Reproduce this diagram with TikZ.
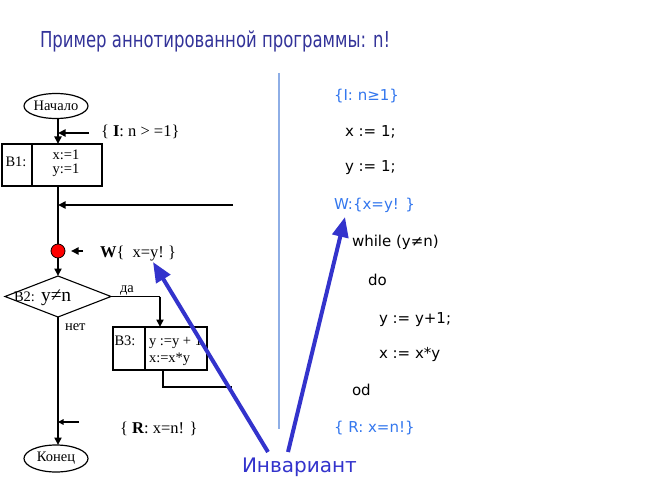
\documentclass[tikz,border=0pt]{standalone}
\usepackage{fontspec}
\usepackage{graphicx}
\setmainfont{Liberation Serif}
\newfontfamily\vsans{DejaVu Sans}
\usetikzlibrary{arrows.meta,shapes.geometric}
\definecolor{titleblue}{HTML}{333399}
\definecolor{codeblue}{HTML}{3377EE}
\definecolor{arrowblue}{HTML}{3333CC}
\definecolor{sepblue}{HTML}{8EAEE6}
\begin{document}
\begin{tikzpicture}[x=1bp,y=-1bp,
  every node/.style={inner sep=0pt, outer sep=0pt},
  term/.style={ellipse, draw, line width=1.2bp, minimum width=64bp, minimum height=25bp, font=\fontsize{14.5bp}{16bp}\selectfont},
  cell/.style={rectangle, draw, line width=1.1bp},
  flow/.style={line width=2.8bp},
  thinline/.style={line width=1.1bp},
  tipA/.style={-{Triangle[length=7.5bp,width=7bp]}},
  lab/.style={font=\fontsize{14.5bp}{16bp}\selectfont},
  ann/.style={font=\fontsize{16.5bp}{18bp}\selectfont},
  code/.style={anchor=base west, font=\vsans\fontsize{15bp}{18bp}\selectfont},
  codeb/.style={code, text=codeblue},
  inv/.style={arrowblue, line width=4bp, -{Triangle[length=20bp,width=16bp]}}
]
\useasboundingbox (0,0) rectangle (646,494);
\fill[white] (0,0) rectangle (646,494);

% title
\node[anchor=base west, text=titleblue, font=\vsans\fontsize{22bp}{26bp}\selectfont] (title) at (40,48) {\scalebox{0.75}[1]{Пример аннотированной программы: n!}};

% separator
\coordinate (sepA) at (279,73);
\coordinate (sepB) at (279,429);
\draw[sepblue, line width=2bp] (sepA) -- (sepB);

% flowchart
\coordinate (fx) at (58,0);
\node[term] (start) at (56,106) {Начало};
\node[cell, minimum width=30bp, minimum height=42bp] (b1a) at (17,165) {};
\node[lab, anchor=base] (b1al) at (16,167) {B1:};
\node[cell, minimum width=70bp, minimum height=42bp] (b1) at (67,165) {};
\node[lab, anchor=base] (b1t1) at (66,160) {x:=1};
\node[lab, anchor=base] (b1t2) at (66,174) {y:=1};

\node[circle, draw, fill=red, minimum size=14bp, line width=0.8bp] (dot) at (58,251) {};
\node[diamond, draw, thinline, minimum width=106bp, minimum height=41bp] (b2) at (58,296.5) {};
\node[lab, anchor=base west] (b2lab) at (14,301) {B2:};
\node[font=\fontsize{19.5bp}{21bp}\selectfont, anchor=base west] (b2cond) at (41,301) {y≠n};

\node[cell, minimum width=32bp, minimum height=43bp] (b3a) at (129,348.5) {};
\node[lab, anchor=base] (b3al) at (125,345) {B3:};
\node[cell, minimum width=62bp, minimum height=43bp] (b3) at (176,348.5) {};
\node[lab, anchor=base west] (b3t1) at (149,345) {y :=y + 1};
\node[lab, anchor=base west] (b3t2) at (149,362) {x:=x*y};

\node[term, minimum height=27bp] (end) at (56,458.5) {Конец};

% annotations
\node[ann, anchor=base west] (iann) at (101,137) {\{ \textbf{I}: n > =1\}};
\node[anchor=base west, font=\fontsize{16.5bp}{18bp}\selectfont] (wann) at (100,258) {\textbf{W}\{\ \ x=y!\ \}};
\node[ann, anchor=base west] (rann) at (120,433) {\{ \textbf{R}: x=n! \}};
\node[lab, anchor=base west] (yes) at (120,292) {да};
\node[lab, anchor=base west] (no) at (65,330) {нет};

% connectors
\coordinate (iarrow) at (89,133);
\coordinate (loopin) at (233,205);
\coordinate (warrow) at (83,251);
\coordinate (yesc) at (160,296.5);
\coordinate (lb) at (163,387);
\coordinate (le) at (232,387);
\coordinate (rtick) at (79,422);

\draw[flow, tipA] (start.south -| fx) -- (b1.north -| fx);
\draw[flow, tipA] (iarrow) -- (iarrow -| fx);
\draw[flow] (b1.south -| fx) -- (dot.north);
\draw[flow, tipA] (loopin) -- (loopin -| fx);
\draw[flow, tipA, shorten >=6bp] (warrow) -- (dot.east);
\draw[flow, tipA] (dot.south) -- (b2.north);
\draw[thinline] (b2.east) -- (yesc);
\draw[flow, tipA] (yesc) -- (yesc |- b3.north);
\draw[thinline] (lb |- b3.south) -- (lb) -- (le);
\draw[flow, tipA] (b2.south) -- (end.north -| fx);
\draw[line width=1.6bp, -{Triangle[length=5.5bp,width=5.5bp]}] (rtick) -- (rtick -| fx);

% code
\node[codeb] (c1) at (334,101) {\{I: n≥1\}};
\node[code] (c2) at (345,137) {x := 1;};
\node[code] (c3) at (345,172) {y := 1;};
\node[codeb] (c4) at (334,210) {W:\{x=y! \}};
\node[code] (c5) at (352,247) {while (y≠n)};
\node[code] (c6) at (368,285) {do};
\node[code] (c7) at (379,323) {y := y+1;};
\node[code] (c8) at (379,358) {x := x*y};
\node[code] (c9) at (352,395) {od};
\node[codeb] (c10) at (334,432) {\{ R: x=n!\}};

% invariant
\node[anchor=base west, text=arrowblue, font=\vsans\fontsize{20bp}{24bp}\selectfont] (invar) at (242,472) {Инвариант};
\coordinate (s1) at (268,452);
\coordinate (s2) at (288,452);
\coordinate (w1) at (153,262);
\coordinate (w2) at (345,217);
\draw[inv] (s1) -- (w1);
\draw[inv] (s2) -- (w2);
\end{tikzpicture}
\end{document}
